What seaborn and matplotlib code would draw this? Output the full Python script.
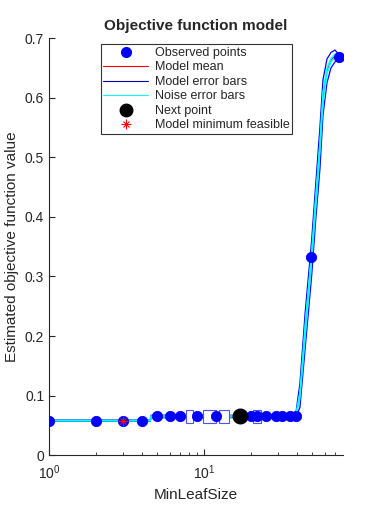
import numpy as np
import pandas as pd
import matplotlib
matplotlib.use("Agg")
import matplotlib.pyplot as plt
import seaborn as sns
from matplotlib.lines import Line2D
from matplotlib.patches import Rectangle

sns.set_style("ticks")
plt.rcParams['font.family'] = ['Liberation Sans', 'DejaVu Sans']

# Observed evaluations (MinLeafSize, objective)
obs_x = [1, 2, 3, 4, 5, 6, 7, 9, 12, 17, 20, 22, 25, 29, 32, 36, 39, 49, 74]
obs_y = [0.058, 0.058, 0.058, 0.058, 0.066, 0.066, 0.066, 0.066, 0.066, 0.066,
         0.066, 0.066, 0.066, 0.066, 0.066, 0.066, 0.066, 0.333, 0.668]

# Model curve
curve_x = [1, 4.5, 4.55, 8, 12, 20, 30, 39, 41.6, 45, 49.5, 52.8, 56, 58.6, 62.2, 66, 70, 74]
model_mean = [0.058, 0.058, 0.065, 0.065, 0.065, 0.065, 0.065, 0.065, 0.10, 0.21,
              0.333, 0.43, 0.517, 0.60, 0.645, 0.663, 0.670, 0.668]
model_lo = [0.057, 0.057, 0.063, 0.063, 0.063, 0.063, 0.063, 0.063, 0.08, 0.18,
            0.30, 0.40, 0.48, 0.57, 0.625, 0.650, 0.660, 0.663]
model_hi = [0.059, 0.059, 0.067, 0.067, 0.067, 0.067, 0.067, 0.067, 0.12, 0.24,
            0.36, 0.46, 0.55, 0.63, 0.665, 0.676, 0.680, 0.673]
noise_lo = [0.0575, 0.0575, 0.064, 0.064, 0.064, 0.064, 0.064, 0.064, 0.095, 0.20,
            0.325, 0.42, 0.51, 0.59, 0.640, 0.660, 0.667, 0.666]
noise_hi = [0.0585, 0.0585, 0.066, 0.066, 0.066, 0.066, 0.066, 0.066, 0.105, 0.22,
            0.341, 0.44, 0.525, 0.61, 0.650, 0.666, 0.673, 0.670]

# hollow error-box artifacts along flat region (left edge, right edge)
box_left = [7.6, 9.9, 12.5, 20.8]
box_right = [8.5, 11.9, 14.6, 23.2]

next_x, next_y = 17, 0.066
min_x, min_y = 3, 0.058

curve = pd.DataFrame({'x': curve_x, 'mean': model_mean, 'mlo': model_lo,
                      'mhi': model_hi, 'nlo': noise_lo, 'nhi': noise_hi})
obs = pd.DataFrame({'x': obs_x, 'y': obs_y})

fig = plt.figure(figsize=(3.77, 5.12), dpi=100)
ax = fig.add_axes([0.130, 0.111, 0.780, 0.8145])

for col in ['mlo', 'mhi']:
    sns.lineplot(data=curve, x='x', y=col, color='#0000ff', lw=0.9, ax=ax, estimator=None)
for bl, br in zip(box_left, box_right):
    ax.add_patch(Rectangle((bl, 0.054), br - bl, 0.022, facecolor='white',
                           edgecolor='#5050ff', lw=0.8, zorder=3))
sns.scatterplot(data=obs, x='x', y='y', color='#0000ff', s=55, edgecolor='#0000ff',
                ax=ax, zorder=4)
sns.lineplot(data=curve, x='x', y='mean', color='red', lw=0.8, ax=ax, estimator=None)
for col in ['nlo', 'nhi']:
    sns.lineplot(data=curve, x='x', y=col, color='cyan', lw=1.0, ax=ax, estimator=None)
ax.scatter([next_x], [next_y], s=110, color='black', zorder=6)
ax.plot([min_x], [min_y], marker='+', color='red', ms=7, mew=0.8, zorder=7)
ax.plot([min_x], [min_y], marker='x', color='red', ms=5, mew=0.8, zorder=7)

ax.set_xscale('log')
ax.set_xlim(1, 79)
ax.set_ylim(0, 0.7)
ax.set_yticks(np.arange(0, 0.71, 0.1))
ax.set_yticklabels(['0', '0.1', '0.2', '0.3', '0.4', '0.5', '0.6', '0.7'])
ax.tick_params(direction='in', labelsize=10, which='both')
ax.tick_params(axis='x', pad=6, which='both')
ax.tick_params(which='major', length=4)
ax.tick_params(which='minor', length=2)
sns.despine(ax=ax)
ax.set_xlabel('MinLeafSize', fontsize=11)
ax.set_ylabel('Estimated objective function value', fontsize=11)
ax.set_title('Objective function model', fontsize=11, fontweight='bold', pad=6)

star = (Line2D([], [], ls='', marker='+', color='red', ms=7, mew=0.8),
        Line2D([], [], ls='', marker='x', color='red', ms=5, mew=0.8))
handles = [
    Line2D([], [], ls='', marker='o', color='#0000ff', ms=7),
    Line2D([], [], color='red', lw=0.8),
    Line2D([], [], color='#0000b0', lw=0.8),
    Line2D([], [], color='cyan', lw=0.8),
    Line2D([], [], ls='', marker='o', color='black', ms=9),
    star,
]
labels = ['Observed points', 'Model mean', 'Model error bars', 'Noise error bars',
          'Next point', 'Model minimum feasible']
leg = ax.legend(handles, labels, loc='upper left', bbox_to_anchor=(0.176, 0.985),
                fontsize=9, frameon=True, fancybox=False, edgecolor='black',
                handlelength=3.6, handletextpad=0.5, labelspacing=0.2,
                borderpad=0.2, borderaxespad=0)
leg.get_frame().set_linewidth(0.8)

fig.savefig('out.png', dpi=100)
